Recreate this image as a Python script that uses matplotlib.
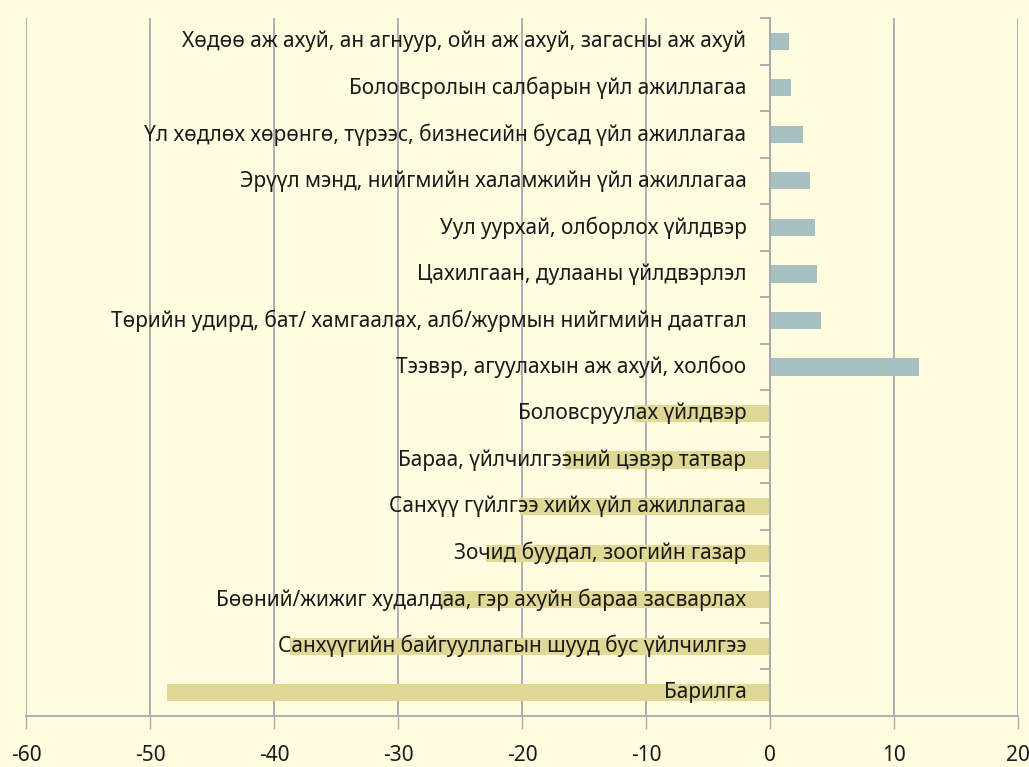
import matplotlib.pyplot as plt
import numpy as np

plt.rcParams['font.family'] = ['Noto Sans', 'DejaVu Sans']
plt.rcParams['axes.unicode_minus'] = False

categories = [
    'Хөдөө аж ахуй, ан агнуур, ойн аж ахуй, загасны аж ахуй',
    'Боловсролын салбарын үйл ажиллагаа',
    'Үл хөдлөх хөрөнгө, түрээс, бизнесийн бусад үйл ажиллагаа',
    'Эрүүл мэнд, нийгмийн халамжийн үйл ажиллагаа',
    'Уул уурхай, олборлох үйлдвэр',
    'Цахилгаан, дулааны үйлдвэрлэл',
    'Төрийн удирд, бат/ хамгаалах, алб/журмын нийгмийн даатгал',
    'Тээвэр, агуулахын аж ахуй, холбоо',
    'Боловсруулах үйлдвэр',
    'Бараа, үйлчилгээний цэвэр татвар',
    'Санхүү гүйлгээ хийх үйл ажиллагаа',
    'Зочид буудал, зоогийн газар',
    'Бөөний/жижиг худалдаа, гэр ахуйн бараа засварлах',
    'Санхүүгийн байгууллагын шууд бус үйлчилгээ',
    'Барилга',
]
values = [1.5, 1.7, 2.7, 3.2, 3.6, 3.8, 4.1, 12.0,
          -11.0, -16.5, -20.2, -22.9, -26.5, -38.7, -48.6]

pos_color = '#a7c1c2'
neg_color = '#e0d996'
bg = '#fffce0'
grid_col = '#a9a9b1'

fig = plt.figure(figsize=(10.29, 7.67), dpi=100, facecolor=bg)
ax = fig.add_axes([26 / 1029, 51 / 767, (1018 - 26) / 1029, (716 - 18) / 767])
ax.set_facecolor(bg)

y = np.arange(len(categories))
colors = [pos_color if v > 0 else neg_color for v in values]
ax.barh(y, values, height=0.37, color=colors, zorder=2)

for yi, name in zip(y, categories):
    ax.text(-1.9, yi, name, ha='right', va='center', fontsize=15,
            color='#1a1a1a', zorder=3)

ax.set_xlim(-60, 20)
ax.set_ylim(len(categories) - 0.5, -0.5)
ax.set_xticks(np.arange(-60, 21, 10))
ax.tick_params(axis='x', length=9, width=1, color=grid_col, labelsize=15,
               labelcolor='#1a1a1a', pad=12)
ax.xaxis.grid(True, color=grid_col, linewidth=1.3, zorder=0)

ax.spines['left'].set_position(('data', 0))
ax.spines['left'].set_color(grid_col)
ax.spines['left'].set_linewidth(1.3)
ax.spines['left'].set_zorder(2.5)
ax.set_yticks(np.arange(len(categories) + 1) - 0.5)
ax.set_yticklabels([])
ax.tick_params(axis='y', length=7, width=1.3, color=grid_col)
ax.spines['bottom'].set_color(grid_col)
ax.spines['bottom'].set_linewidth(1.3)
ax.spines['top'].set_visible(False)
ax.spines['right'].set_visible(False)

fig.savefig('out.png', dpi=100, facecolor=bg)
